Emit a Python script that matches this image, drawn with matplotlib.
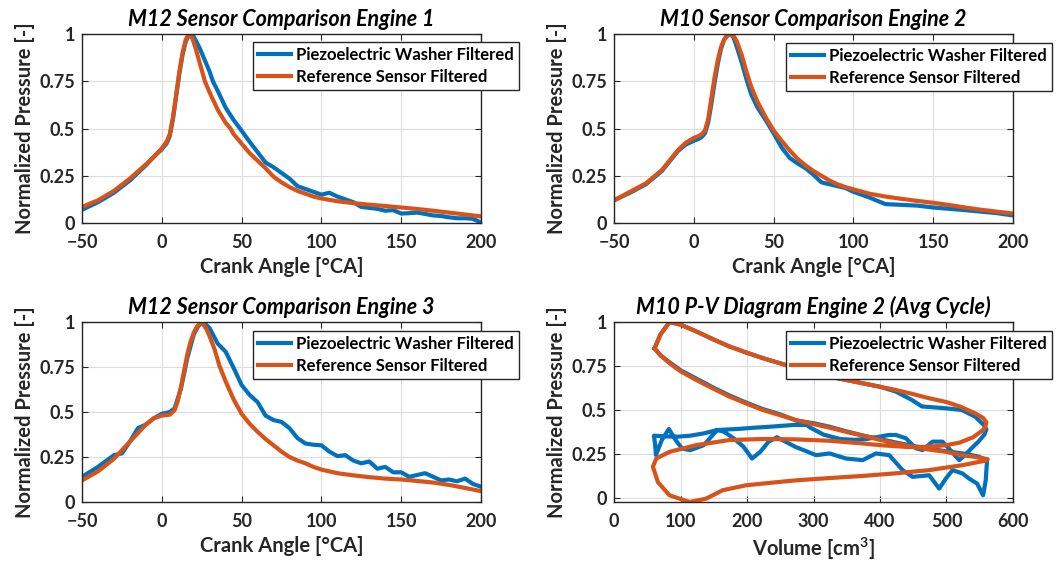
import numpy as np
import matplotlib.pyplot as plt

plt.rcParams['font.family'] = ['Lato', 'DejaVu Sans']
plt.rcParams['font.weight'] = 'bold'
plt.rcParams['axes.labelweight'] = 'bold'
plt.rcParams['axes.titleweight'] = 'bold'
plt.rcParams['mathtext.fontset'] = 'custom'
plt.rcParams['mathtext.bf'] = 'Lato:bold'
plt.rcParams['mathtext.rm'] = 'Lato:bold'

BLUE = '#0072BD'
ORANGE = '#D95319'
TXT = '#262626'

# ---- engine 1 (M12) ----
ang1_ref = [-50, -40, -30, -20, -10, -5, 0, 3, 5, 7, 9, 11, 13, 15, 17, 19, 21, 24, 27, 30, 35, 40, 43, 45,
            50, 55, 60, 65, 70, 75, 80, 85, 90, 95, 100, 110, 120, 130, 140, 150, 160, 170, 180, 190, 200]
p1_ref = [0.085, 0.12, 0.17, 0.235, 0.31, 0.35, 0.395, 0.43, 0.47, 0.56, 0.68, 0.80, 0.90, 0.97, 1.0, 0.98,
          0.93, 0.84, 0.75, 0.69, 0.60, 0.53, 0.50, 0.47, 0.42, 0.37, 0.33, 0.29, 0.245, 0.215, 0.19, 0.17,
          0.155, 0.14, 0.13, 0.115, 0.105, 0.097, 0.09, 0.082, 0.074, 0.065, 0.055, 0.045, 0.035]
ang1_pz = [-50, -40, -30, -20, -10, -5, 0, 3, 5, 7, 9, 11, 13, 15, 17, 19, 21, 24, 27, 30, 32, 35, 40, 45,
           49, 55, 60, 65, 70, 75, 80, 85, 90, 95, 100, 105, 110, 115, 120, 125, 130, 135, 140, 145, 150,
           155, 160, 165, 170, 175, 180, 185, 190, 195, 200]
p1_pz = [0.07, 0.11, 0.16, 0.225, 0.305, 0.35, 0.39, 0.42, 0.46, 0.55, 0.67, 0.79, 0.89, 0.96, 0.995, 1.0,
         0.97, 0.92, 0.86, 0.80, 0.75, 0.70, 0.61, 0.545, 0.50, 0.43, 0.375, 0.32, 0.295, 0.265, 0.235,
         0.195, 0.18, 0.165, 0.15, 0.16, 0.14, 0.125, 0.11, 0.085, 0.08, 0.075, 0.065, 0.068, 0.05, 0.052,
         0.055, 0.048, 0.04, 0.037, 0.03, 0.025, 0.025, 0.022, 0.003]

# ---- engine 2 (M10) ----
ang2 = [-50, -40, -30, -20, -10, -5, 0, 3, 5, 7, 9, 11, 13, 15, 17, 19, 21, 23, 25, 27, 30, 33, 36, 40,
        45, 50, 55, 60, 65, 70, 75, 80, 85, 90, 95, 100, 110, 120, 130, 140, 150, 160, 170, 180, 190, 200]
p2_ref = [0.12, 0.165, 0.21, 0.28, 0.385, 0.425, 0.45, 0.46, 0.47, 0.49, 0.55, 0.66, 0.77, 0.86, 0.93,
          0.97, 0.99, 1.0, 0.99, 0.96, 0.89, 0.80, 0.72, 0.64, 0.56, 0.49, 0.435, 0.385, 0.34, 0.305,
          0.275, 0.25, 0.225, 0.205, 0.19, 0.178, 0.155, 0.14, 0.128, 0.117, 0.107, 0.095, 0.082, 0.07,
          0.06, 0.05]
p2_pz = [0.12, 0.16, 0.205, 0.275, 0.38, 0.415, 0.435, 0.445, 0.455, 0.475, 0.53, 0.63, 0.74, 0.84, 0.92,
         0.97, 0.995, 1.0, 0.98, 0.93, 0.85, 0.76, 0.68, 0.61, 0.545, 0.475, 0.40, 0.345, 0.315, 0.29,
         0.255, 0.215, 0.205, 0.195, 0.185, 0.165, 0.135, 0.10, 0.096, 0.092, 0.082, 0.075, 0.068, 0.06,
         0.052, 0.04]

# ---- engine 3 (M12) ----
ang3_ref = [-50, -40, -30, -20, -10, -5, 0, 5, 8, 10, 12, 14, 16, 18, 20, 22, 25, 28, 30, 33, 36, 40, 45,
            50, 55, 60, 65, 70, 75, 80, 85, 90, 95, 100, 110, 120, 130, 140, 150, 160, 170, 180, 190, 200]
p3_ref = [0.12, 0.17, 0.24, 0.335, 0.43, 0.465, 0.48, 0.485, 0.51, 0.56, 0.64, 0.73, 0.82, 0.89, 0.94,
          0.975, 1.0, 0.96, 0.92, 0.85, 0.76, 0.67, 0.57, 0.49, 0.435, 0.39, 0.35, 0.315, 0.28, 0.25,
          0.23, 0.215, 0.195, 0.18, 0.16, 0.148, 0.138, 0.13, 0.125, 0.117, 0.108, 0.095, 0.078, 0.06]
ang3_pz = [-50, -40, -30, -25, -20, -15, -10, -5, 0, 5, 8, 12, 16, 20, 23, 26, 30, 35, 40, 45, 50, 55,
           60, 65, 70, 75, 80, 85, 90, 95, 100, 105, 110, 115, 120, 125, 130, 135, 140, 145, 150, 155,
           160, 165, 170, 175, 180, 185, 190, 195, 200]
p3_pz = [0.14, 0.195, 0.26, 0.27, 0.335, 0.41, 0.43, 0.465, 0.49, 0.5, 0.52, 0.63, 0.8, 0.93, 0.98, 1.0,
         0.965, 0.88, 0.835, 0.745, 0.65, 0.595, 0.555, 0.48, 0.455, 0.445, 0.41, 0.355, 0.325, 0.318,
         0.315, 0.28, 0.255, 0.26, 0.23, 0.215, 0.225, 0.185, 0.195, 0.165, 0.165, 0.14, 0.15, 0.16,
         0.14, 0.12, 0.125, 0.115, 0.13, 0.10, 0.085]

# ---- P-V engine 2 (avg cycle) ----
vol_ref = [61, 70, 83.5, 100, 123.5, 150, 173.5, 200, 223.5, 250, 273.5, 300, 323.5, 350, 373.5, 400,
           423.5, 450, 473.5, 500, 520, 543.5, 555, 560, 558, 553, 540, 520, 500, 470, 440, 400, 373.5,
           323.5, 273.5, 223.5, 173.5, 123.5, 83.5, 63.5, 58.5, 66, 83.5, 113.5, 138.5, 163.5, 198.5,
           248.5, 273.5, 323.5, 373.5, 423.5, 473.5, 523.5, 558.5, 562, 540, 523.5, 500, 473.5, 450,
           423.5, 400, 373.5, 350, 323.5, 300, 273.5, 250, 223.5, 200, 173.5, 150, 123.5, 100, 83.5, 70, 61]
pv_ref = [0.85, 0.93, 1.0, 0.985, 0.947, 0.90, 0.861, 0.825, 0.795, 0.765, 0.738, 0.712, 0.69, 0.67,
          0.652, 0.632, 0.614, 0.59, 0.567, 0.545, 0.52, 0.48, 0.455, 0.43, 0.40, 0.38, 0.345, 0.315,
          0.30, 0.29, 0.29, 0.30, 0.31, 0.325, 0.333, 0.335, 0.329, 0.30, 0.262, 0.224, 0.177, 0.09,
          0.015, -0.023, -0.004, 0.044, 0.072, 0.091, 0.10, 0.113, 0.125, 0.14, 0.158, 0.186, 0.212,
          0.22, 0.235, 0.243, 0.262, 0.275, 0.29, 0.31, 0.33, 0.355, 0.375, 0.40, 0.42, 0.443, 0.47,
          0.50, 0.535, 0.576, 0.62, 0.671, 0.72, 0.766, 0.81, 0.85]
vol_pz = [61, 70, 83.5, 100, 123.5, 150, 173.5, 200, 223.5, 250, 273.5, 300, 323.5, 350, 373.5, 400,
          423.5, 448, 463, 498, 523, 543, 556, 560, 557, 548, 537, 527, 519, 504, 494, 479, 464, 454,
          439, 424, 413, 395, 380, 362, 340, 315, 295, 290, 270, 260, 235, 210, 185, 155, 135, 115, 95,
          75, 60, 62, 63, 72, 82.5, 92.5, 102.5, 115, 135, 155, 165, 180, 195, 207.5, 220, 232.5, 245,
          273, 304, 324, 349, 374, 394, 414, 434, 449, 474, 489, 499, 509, 524, 534, 546, 555, 559, 561,
          548, 530, 500, 474, 450, 424, 400, 374, 350, 324, 300, 274, 250, 224, 200, 174, 150, 124, 100,
          84, 70, 61]
pv_pz = [0.85, 0.93, 1.0, 0.985, 0.947, 0.90, 0.861, 0.825, 0.795, 0.765, 0.738, 0.712, 0.69, 0.67,
         0.652, 0.632, 0.605, 0.557, 0.52, 0.51, 0.50, 0.462, 0.415, 0.39, 0.36, 0.32, 0.28, 0.24, 0.215,
         0.28, 0.32, 0.32, 0.272, 0.282, 0.339, 0.358, 0.358, 0.345, 0.335, 0.33, 0.335, 0.36, 0.40,
         0.415, 0.415, 0.412, 0.405, 0.399, 0.392, 0.386, 0.367, 0.354, 0.348, 0.35, 0.354, 0.30, 0.244,
         0.33, 0.392, 0.33, 0.28, 0.272, 0.30, 0.386, 0.377, 0.339, 0.29, 0.224, 0.262, 0.32, 0.345,
         0.29, 0.243, 0.253, 0.224, 0.215, 0.253, 0.243, 0.158, 0.12, 0.129, 0.053, 0.11, 0.158, 0.139,
         0.11, 0.082, 0.015, 0.10, 0.215, 0.235, 0.25, 0.265, 0.28, 0.295, 0.315, 0.335, 0.355, 0.378,
         0.405, 0.425, 0.44, 0.475, 0.505, 0.54, 0.582, 0.626, 0.678, 0.726, 0.77, 0.81, 0.85]

fig = plt.figure(figsize=(10.58, 5.71), dpi=100)
L1, L2, W = 82 / 1058, 614 / 1058, 399 / 1058
B1, B2, H = 1 - 223 / 571, 1 - 502 / 571, 189 / 571
H2 = 180 / 571
ax1 = fig.add_axes([L1, B1, W, H])
ax2 = fig.add_axes([L2, B1, W, H])
ax3 = fig.add_axes([L1, B2, W, H2])
ax4 = fig.add_axes([L2, B2, W, H2])

lw = 3.0
ax1.plot(ang1_pz, p1_pz, color=BLUE, lw=lw, label='Piezoelectric Washer Filtered')
ax1.plot(ang1_ref, p1_ref, color=ORANGE, lw=lw, label='Reference Sensor Filtered')
ax2.plot(ang2, p2_pz, color=BLUE, lw=lw, label='Piezoelectric Washer Filtered')
ax2.plot(ang2, p2_ref, color=ORANGE, lw=lw, label='Reference Sensor Filtered')
ax3.plot(ang3_pz, p3_pz, color=BLUE, lw=lw, label='Piezoelectric Washer Filtered')
ax3.plot(ang3_ref, p3_ref, color=ORANGE, lw=lw, label='Reference Sensor Filtered')
ax4.plot(vol_pz, pv_pz, color=BLUE, lw=lw, label='Piezoelectric Washer Filtered')
ax4.plot(vol_ref, pv_ref, color=ORANGE, lw=lw, label='Reference Sensor Filtered')

titles = ['M12 Sensor Comparison Engine 1', 'M10 Sensor Comparison Engine 2',
          'M12 Sensor Comparison Engine 3', 'M10 P-V Diagram Engine 2 (Avg Cycle)']
ytick_vals = [0, 0.25, 0.5, 0.75, 1]
ytick_lbls = ['0', '0.25', '0.5', '0.75', '1']
leg_pos = [(253, 42), (786, 43), (253, 331), (786, 331)]

for i, ax in enumerate([ax1, ax2, ax3, ax4]):
    if i < 3:
        ax.set_xlim(-50, 200)
        ax.set_xticks([-50, 0, 50, 100, 150, 200])
        ax.set_ylim(0, 1)
        ax.set_xlabel('Crank Angle [°CA]', fontsize=14.5, color=TXT, labelpad=4)
    else:
        ax.set_xlim(0, 600)
        ax.set_xticks([0, 100, 200, 300, 400, 500, 600])
        ax.set_ylim(-0.023, 1)
        ax.set_xlabel('Volume [cm$^{\\mathbf{3}}$]', fontsize=14.5, color=TXT, labelpad=4)
    ax.set_yticks(ytick_vals)
    ax.set_yticklabels(ytick_lbls)
    ax.set_ylabel('Normalized Pressure [-]', fontsize=14.5, color=TXT, labelpad=3)
    ax.set_title(titles[i], fontsize=15.5, fontstyle='italic', fontweight='bold', color='black', pad=6)
    ax.grid(True, color='#dcdcdc', lw=0.8)
    ax.set_axisbelow(True)
    ax.tick_params(direction='in', top=True, right=True, labelsize=13, colors=TXT, length=4)
    ax.tick_params(axis='x', pad=8)
    ax.tick_params(axis='y', pad=5)
    for lab in ax.get_xticklabels() + ax.get_yticklabels():
        lab.set_fontweight('bold')
    for sp in ax.spines.values():
        sp.set_color(TXT)
        sp.set_linewidth(1.0)
    lx, ly = leg_pos[i]
    leg = ax.legend(loc='upper left', bbox_to_anchor=(lx / 1058, 1 - ly / 571),
                    bbox_transform=fig.transFigure, borderaxespad=0,
                    prop={'size': 12, 'weight': 'bold'},
                    handlelength=2.0, handletextpad=0.3, labelspacing=0.35,
                    borderpad=0.3, fancybox=False, framealpha=1)
    leg.get_frame().set_edgecolor(TXT)
    leg.get_frame().set_linewidth(1.0)
    for t in leg.get_texts():
        t.set_color('black')

fig.savefig('out.png', dpi=100)
